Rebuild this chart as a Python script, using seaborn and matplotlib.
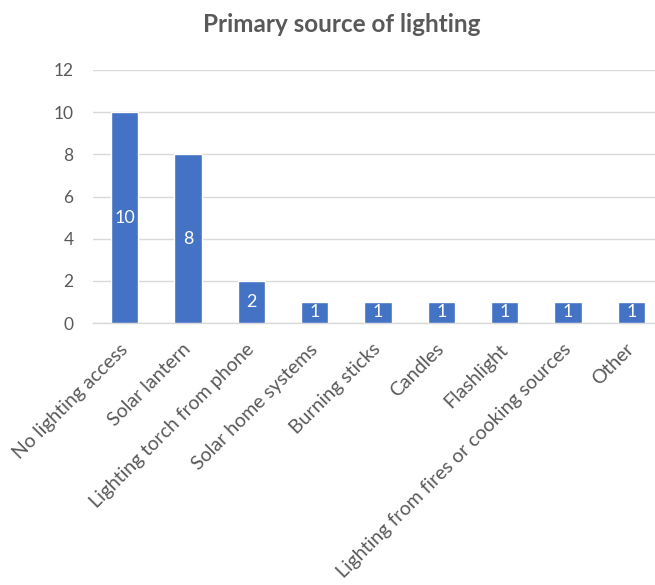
import matplotlib
matplotlib.use("Agg")
import matplotlib.pyplot as plt
import seaborn as sns
import pandas as pd
from matplotlib.ticker import FixedLocator

categories = [
    "No lighting access",
    "Solar lantern",
    "Lighting torch from phone",
    "Solar home systems",
    "Burning sticks",
    "Candles",
    "Flashlight",
    "Lighting from fires or cooking sources",
    "Other",
]
counts = [10, 8, 2, 1, 1, 1, 1, 1, 1]
y_ticks = [0, 2, 4, 6, 8, 10, 12]

df = pd.DataFrame({"source": categories, "count": counts})

sns.set_theme(style="white")
plt.rcParams["font.family"] = ["Lato", "DejaVu Sans"]

text_grey = "#595959"
grid_grey = "#d9d9d9"
bar_blue = "#4472C4"

fig = plt.figure(figsize=(6.55, 5.85), dpi=100)
ax = fig.add_axes([93 / 655, 1 - 323 / 585, (663 - 93) / 655, (323 - 70) / 585])

sns.barplot(data=df, x="source", y="count", color=bar_blue, width=0.43,
            saturation=1, ax=ax, zorder=3)

ax.set_ylim(0, 12)
ax.set_xlim(-0.5, len(categories) - 0.5)
ax.set_yticks(y_ticks)
ax.set_yticklabels([str(v) for v in y_ticks], fontsize=12.5, color=text_grey)
ax.tick_params(axis="y", length=0, pad=14)

# category labels under the axis, tick marks between categories
ax.set_xticks(range(len(categories)))
ax.set_xticklabels(categories, rotation=45, ha="right", va="center",
                   rotation_mode="anchor", fontsize=14, color=text_grey)
ax.tick_params(axis="x", which="major", length=0, pad=17)
ax.xaxis.set_minor_locator(FixedLocator([i - 0.5 for i in range(len(categories) + 1)]))
ax.tick_params(axis="x", which="minor", length=5, width=1, color=grid_grey, direction="out")

ax.grid(axis="y", color=grid_grey, linewidth=1, zorder=0)
for side in ["left", "right", "top"]:
    ax.spines[side].set_visible(False)
ax.spines["bottom"].set_color(grid_grey)
ax.spines["bottom"].set_linewidth(1)

ax.set_xlabel("")
ax.set_ylabel("")

for container in ax.containers:
    ax.bar_label(container, labels=[str(v) for v in counts], label_type="center",
                 color="white", fontsize=13)

fig.text(342 / 655, 1 - 25 / 585, "Primary source of lighting", ha="center", va="center",
         fontsize=17.5, fontweight="bold", color=text_grey)

fig.savefig("out.png", dpi=100)
